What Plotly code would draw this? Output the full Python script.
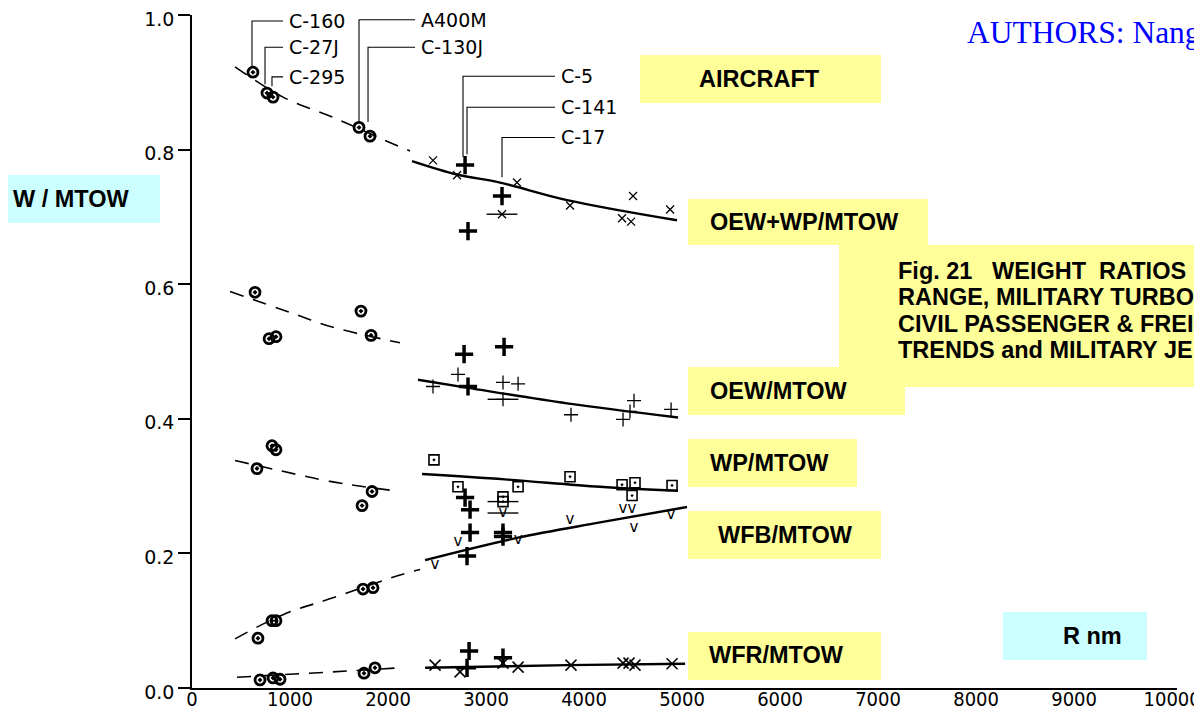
import plotly.graph_objects as go

# ---- data: R (nm) vs weight ratio W/MTOW ----

# OEW+WP/MTOW
tot_circ_r = [622, 765, 827, 1704, 1816]          # C-160, C-27J, C-295, A400M, C-130J
tot_circ_v = [0.915, 0.884, 0.878, 0.833, 0.820]
tot_x_r = [2459, 2704, 3316, 3857, 4500, 4388, 4480, 4878, 3163]
tot_x_v = [0.784, 0.762, 0.751, 0.717, 0.731, 0.698, 0.693, 0.711, 0.704]
tot_jet_r = [2786, 3163, 2816]                     # C-5, C-17, C-141
tot_jet_v = [0.777, 0.731, 0.679]
tot_dash_r = [439, 929, 1439, 1949, 2224]
tot_dash_v = [0.923, 0.878, 0.848, 0.815, 0.798]
tot_fit_r = [2245, 2704, 3143, 3827, 4949]
tot_fit_v = [0.783, 0.763, 0.751, 0.725, 0.695]

# OEW/MTOW
oew_circ_r = [643, 786, 857, 1724, 1827]
oew_circ_v = [0.588, 0.519, 0.522, 0.560, 0.524]
oew_p_r = [2459, 2714, 3173, 3327, 3867, 4510, 4398, 4469, 4888, 3173]
oew_p_v = [0.448, 0.466, 0.454, 0.452, 0.406, 0.427, 0.399, 0.411, 0.414, 0.429]
oew_jet_r = [2776, 3184, 2816]
oew_jet_v = [0.496, 0.507, 0.448]
oew_dash_r = [388, 1000, 1439, 2122]
oew_dash_v = [0.589, 0.558, 0.536, 0.513]
oew_fit_r = [2306, 2816, 3827, 4959]
oew_fit_v = [0.458, 0.446, 0.423, 0.402]

# WP/MTOW
wp_circ_r = [663, 816, 857, 1735, 1837]
wp_circ_v = [0.326, 0.360, 0.354, 0.271, 0.292]
wp_sq_r = [2469, 2714, 3327, 3173, 3173, 3857, 4388, 4520, 4490, 4898]
wp_sq_v = [0.339, 0.299, 0.299, 0.284, 0.277, 0.314, 0.302, 0.305, 0.286, 0.301]
wp_jet_r = [2786, 2837]
wp_jet_v = [0.283, 0.265]
wp_dash_r = [439, 867, 1408, 2122]
wp_dash_v = [0.338, 0.324, 0.307, 0.292]
wp_fit_r = [2347, 3194, 4163, 4959]
wp_fit_v = [0.318, 0.310, 0.299, 0.293]

# WFB/MTOW
wfb_circ_r = [673, 816, 857, 1745, 1847]
wfb_circ_v = [0.074, 0.100, 0.100, 0.147, 0.149]
wfb_v_r = [2480, 2714, 3173, 3327, 3857, 4398, 4490, 4510, 4888]
wfb_v_v = [0.183, 0.216, 0.260, 0.220, 0.249, 0.266, 0.266, 0.238, 0.256]
wfb_jet_r = [2837, 3173, 3173, 2806]
wfb_jet_v = [0.231, 0.231, 0.225, 0.196]
wfb_dash_r = [439, 929, 1439, 2122, 2327]
wfb_dash_v = [0.073, 0.109, 0.134, 0.168, 0.176]
wfb_fit_r = [2378, 3316, 4163, 5051]
wfb_fit_v = [0.190, 0.223, 0.246, 0.269]

# WFR/MTOW
wfr_circ_r = [694, 827, 898, 1755, 1867]
wfr_circ_v = [0.012, 0.015, 0.013, 0.022, 0.030]
wfr_x_r = [2480, 2735, 3173, 3327, 3867, 4398, 4459, 4520, 4898]
wfr_x_v = [0.034, 0.024, 0.037, 0.031, 0.034, 0.037, 0.037, 0.034, 0.036]
wfr_jet_r = [2827, 2806, 3173]
wfr_jet_v = [0.055, 0.030, 0.045]
wfr_dash_r = [459, 1439, 2122]
wfr_dash_v = [0.016, 0.024, 0.030]
wfr_fit_r = [2378, 3827, 5031]
wfr_fit_v = [0.030, 0.034, 0.036]

# points drawn with a short horizontal bar through them
bar_r = [3163, 3173, 3173, 3173]
bar_v = [0.704, 0.429, 0.277, 0.260]

# aircraft name tags with leader lines
tag_names = ["C-160", "C-27J", "C-295", "A400M", "C-130J", "C-5", "C-141", "C-17"]
tag_r = [612, 745, 816, 1704, 1796, 2765, 2806, 3163]
tag_from = [0.923, 0.897, 0.894, 0.842, 0.841, 0.789, 0.793, 0.759]
tag_to = [0.991, 0.952, 0.908, 0.993, 0.952, 0.909, 0.863, 0.818]
tag_end = [929, 929, 929, 2276, 2276, 3704, 3704, 3704]

x_ticks = list(range(0, 10001, 1000))
x_labels = [str(t) for t in x_ticks]
y_ticks = [0.0, 0.2, 0.4, 0.6, 0.8, 1.0]
y_labels = ["0.0", "0.2", "0.4", "0.6", "0.8", "1.0"]

# ---- figure ----
fig = go.Figure()
INK = "black"

def dashed(r, v):
    fig.add_trace(go.Scatter(x=r, y=v, mode="lines", line=dict(color=INK, width=1.6, dash="14px,10px", shape="spline")))

def solid(r, v):
    fig.add_trace(go.Scatter(x=r, y=v, mode="lines", line=dict(color=INK, width=2.4, shape="spline")))

def pts(r, v, symbol, size, width):
    fig.add_trace(go.Scatter(x=r, y=v, mode="markers", cliponaxis=False,
                             marker=dict(symbol=symbol, size=size, color=INK, line=dict(color=INK, width=width))))

for d, f in [((tot_dash_r, tot_dash_v), (tot_fit_r, tot_fit_v)),
             ((oew_dash_r, oew_dash_v), (oew_fit_r, oew_fit_v)),
             ((wp_dash_r, wp_dash_v), (wp_fit_r, wp_fit_v)),
             ((wfb_dash_r, wfb_dash_v), (wfb_fit_r, wfb_fit_v)),
             ((wfr_dash_r, wfr_dash_v), (wfr_fit_r, wfr_fit_v))]:
    dashed(*d)
    solid(*f)

# turboprops: dotted circles
for r, v in [(tot_circ_r, tot_circ_v), (oew_circ_r, oew_circ_v), (wp_circ_r, wp_circ_v),
             (wfb_circ_r, wfb_circ_v), (wfr_circ_r, wfr_circ_v)]:
    pts(r, v, "circle-open-dot", 10, 2.8)

# civil trend points
pts(tot_x_r, tot_x_v, "x-thin-open", 8, 1.3)
pts(oew_p_r, oew_p_v, "cross-thin-open", 10, 1.3)
pts(wp_sq_r, wp_sq_v, "square-open-dot", 10, 1.6)
fig.add_trace(go.Scatter(x=wfb_v_r, y=wfb_v_v, mode="text", text=["v"] * len(wfb_v_r), cliponaxis=False,
                         textfont=dict(family="DejaVu Sans", size=15, color=INK)))
pts(wfr_x_r, wfr_x_v, "x-thin-open", 11, 1.5)
pts(bar_r, bar_v, "line-ew-open", 22, 1.4)

# military jets: heavy crosses
for r, v in [(tot_jet_r, tot_jet_v), (oew_jet_r, oew_jet_v), (wp_jet_r, wp_jet_v),
             (wfb_jet_r, wfb_jet_v), (wfr_jet_r, wfr_jet_v)]:
    pts(r, v, "cross-thin-open", 13, 3.5)

# leader lines for the name tags
lx, ly = [], []
for r, a, b, e in zip(tag_r, tag_from, tag_to, tag_end):
    lx += [r, r, e, None]
    ly += [a, b, b, None]
fig.add_trace(go.Scatter(x=lx, y=ly, mode="lines", line=dict(color=INK, width=1.1), cliponaxis=False))
for name, e, b in zip(tag_names, tag_end, tag_to):
    fig.add_annotation(x=e, y=b, text=name, showarrow=False, xanchor="left", xshift=4,
                       font=dict(family="DejaVu Sans", size=19, color=INK))

# ---- boxes and text, positioned in page pixels ----
# the page body adds an 8px margin all round; keep the figure inside the window
BODY = 8
FIG_W, FIG_H = 1202 - BODY, 718 - 2 * BODY
L, T, W, H = 192, 15, 985, 673   # plot area on the page
def px(x):
    return (x - L) / W
def py(y):
    return (T + H - y) / H

YEL = "#ffff99"
CYAN = "#ccffff"
boxes = [
    (640, 55, 881, 103, YEL), (688, 199, 928, 245, YEL), (839, 245, 1202, 387, YEL),
    (688, 367, 905, 415, YEL), (688, 439, 857, 487, YEL), (688, 511, 881, 559, YEL),
    (688, 632, 881, 680, YEL), (1003, 612, 1147, 660, CYAN), (0, 175, 160, 223, CYAN),
]
for x0, y0, x1, y1, c in boxes:
    fig.add_shape(type="rect", xref="paper", yref="paper", x0=px(x0), x1=px(x1), y0=py(y0), y1=py(y1),
                  fillcolor=c, line=dict(width=0), layer="below")

BOLD = dict(family="Liberation Sans, Arial", size=23.5, color=INK, weight="bold")
labels = [
    ("AIRCRAFT", 697, 79), ("OEW+WP/MTOW", 708, 222), ("OEW/MTOW", 708, 391), ("WP/MTOW", 708, 463),
    ("WFB/MTOW", 716, 535), ("WFR/MTOW", 707, 655), ("R nm", 1061, 636), ("W / MTOW", 11, 199),
    # the caption runs off the right edge of the page in the source
    ("Fig. 21   WEIGHT  RATIOS", 896, 271), ("RANGE, MILITARY TURBO", 896, 297),
    ("CIVIL PASSENGER & FREI", 896, 324), ("TRENDS and MILITARY JE", 896, 350),
]
for t, x, y in labels:
    fig.add_annotation(xref="paper", yref="paper", x=px(x), y=py(y), text=t, showarrow=False,
                       xanchor="left", yanchor="middle", font=BOLD)

fig.add_annotation(xref="paper", yref="paper", x=px(965), y=py(32), text="AUTHORS: Nang", showarrow=False,
                   xanchor="left", yanchor="middle",
                   font=dict(family="Liberation Serif, Times New Roman", size=31.5, color="#0000ff"))

fig.update_layout(
    width=FIG_W, height=FIG_H, showlegend=False,
    margin=dict(l=L - BODY, r=FIG_W - (L - BODY) - W, t=T - BODY, b=FIG_H - (T - BODY) - H),
    paper_bgcolor="white", plot_bgcolor="white",
    xaxis=dict(range=[0, 10050], tickvals=x_ticks, ticktext=x_labels, showgrid=False, zeroline=False,
               showline=True, linecolor=INK, linewidth=1.6, ticks="", automargin=False,
               ticklabeloverflow="allow", ticklabelstandoff=-8,
               tickfont=dict(family="Liberation Sans Narrow, DejaVu Sans Condensed, Arial", size=20, color=INK)),
    yaxis=dict(range=[0, 1.0], tickvals=y_ticks, ticktext=y_labels, showgrid=False, zeroline=False,
               showline=True, linecolor=INK, linewidth=1.6, ticks="outside", ticklen=12, tickwidth=2,
               tickcolor=INK, automargin=False, ticklabeloverflow="allow", ticklabelshift=4,
               tickfont=dict(family="DejaVu Sans", size=19, color=INK)),
)

fig.write_html("out.html")
